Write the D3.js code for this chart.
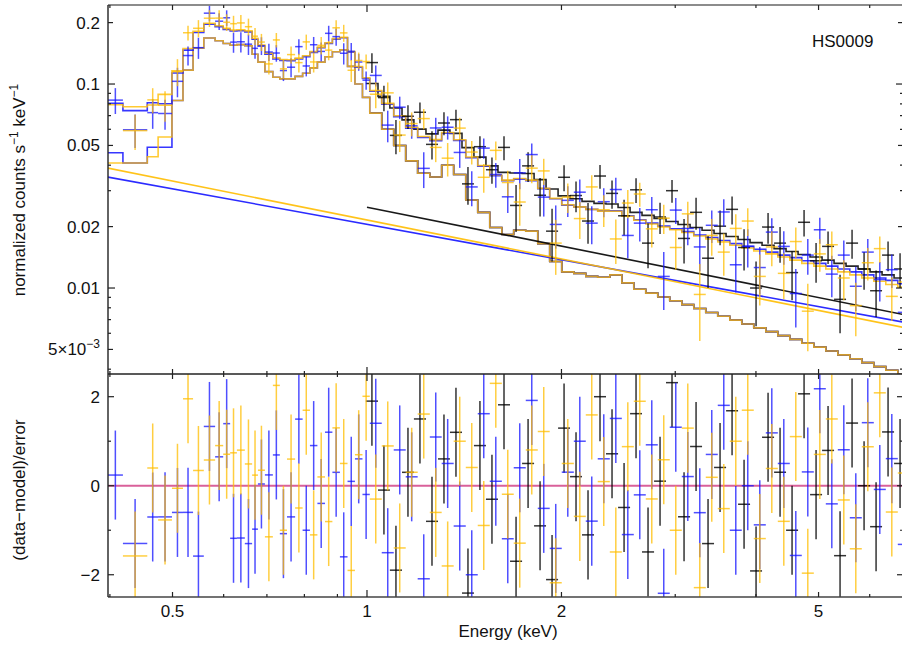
<!DOCTYPE html>
<html>
<head>
<meta charset="utf-8">
<script src="https://cdn.jsdelivr.net/npm/d3@7"></script>
<style>
  body { margin: 0; background: #fff; }
  svg text { font-family: "Liberation Sans", Arial, Helvetica, sans-serif; fill: #111; }
</style>
</head>
<body>
<svg id="chart" width="902" height="646"></svg>
<script>
// ---- bin edges (keV) ----
var edgesBY = [0.397,0.419,0.457,0.475,0.499,0.519,0.538,0.559,0.582,0.599,0.614,0.629,0.647,0.664,0.678,0.695,0.715,0.733,0.752,0.774,
  0.795,0.816,0.838,0.861,0.884,0.908,0.933,0.958,0.984,1.010,1.054,1.100,1.148,1.198,1.251,1.305,1.362,1.422,1.484,1.549,
  1.617,1.687,1.761,1.838,1.918,2.002,2.090,2.181,2.276,2.376,2.480,2.588,2.701,2.819,2.942,3.071,3.205,3.345,3.491,3.644,
  3.803,3.969,4.143,4.324,4.513,4.710,4.916,5.131,5.355,5.589,5.833,6.088,6.354,6.632,6.922];
var edgesK = [0.996,1.040,1.085,1.133,1.182,1.234,1.288,1.344,1.403,1.464,1.528,1.595,1.665,1.738,1.814,1.893,1.976,2.062,2.152,2.246,
  2.344,2.447,2.554,2.665,2.782,2.903,3.030,3.163,3.301,3.445,3.596,3.753,3.917,4.088,4.267,4.453,4.648,4.851,5.063,5.284,
  5.515,5.756,6.008,6.270,6.544,6.830];

// ---- model: total, per dataset ----
var modelBlue = [0.0805,0.0741,0.0809,0.0801,0.1133,0.1467,0.179,0.1964,0.1908,0.1854,
  0.182,0.1826,0.1802,0.1658,0.1535,0.1401,0.1327,0.1304,0.130,0.1326,
  0.1362,0.1429,0.1505,0.1582,0.1658,0.1685,0.1432,0.1209,0.1065,0.0921,
  0.0796,0.0692,0.0607,0.0547,0.0528,0.0574,0.0529,0.0435,0.0396,0.0355,
  0.0336,0.0342,0.0336,0.0307,0.0274,0.0255,0.0250,0.0243,0.0239,0.0239,
  0.0226,0.0216,0.0208,0.0201,0.0195,0.0189,0.0182,0.0177,0.0171,0.0165,
  0.0160,0.0155,0.0150,0.0145,0.0141,0.0136,0.0132,0.0128,0.0124,0.0120,
  0.0116,0.0112,0.0109,0.0105];
var modelYellow = [0.0791,0.0774,0.0789,0.089,0.116,0.1493,0.1814,0.1987,0.193,0.1875,
  0.184,0.1845,0.1821,0.1676,0.1552,0.1418,0.1343,0.1319,0.1315,0.134,
  0.1375,0.1442,0.1517,0.1594,0.1669,0.1696,0.1442,0.1219,0.1074,0.093,
  0.0804,0.0699,0.0614,0.0553,0.0534,0.0579,0.0533,0.0439,0.0399,0.0358,
  0.0338,0.0344,0.0338,0.0308,0.0275,0.0256,0.0250,0.0243,0.0238,0.0238,
  0.0225,0.0215,0.0206,0.0199,0.0193,0.0187,0.0180,0.0174,0.0168,0.0162,
  0.0157,0.0152,0.0147,0.0142,0.0137,0.0132,0.0128,0.0124,0.0120,0.0116,
  0.0112,0.0108,0.0104,0.0101];
var modelBlack = [0.1006,0.0870,0.0763,0.0667,0.0601,0.0570,0.0594,0.0573,0.0488,0.0438,
  0.0397,0.0369,0.0366,0.0364,0.0340,0.0306,0.0283,0.0274,0.0266,0.0260,
  0.0258,0.0248,0.0235,0.0227,0.0219,0.0212,0.0205,0.0198,0.0192,0.0185,
  0.0179,0.0173,0.0167,0.0162,0.0156,0.0151,0.0146,0.0142,0.0137,0.0132,
  0.0128,0.0124,0.0120,0.0116,0.0112];

// ---- model components ----
var thermBlue = [0.046,0.041,0.049,0.049,0.083,0.117,0.150,0.168,0.163,0.158,
  0.155,0.156,0.154,0.140,0.128,0.115,0.108,0.106,0.106,0.109,
  0.113,0.120,0.128,0.136,0.144,0.147,0.122,0.100,0.086,0.072,
  0.060,0.050,0.042,0.0365,0.035,0.040,0.036,0.027,0.0235,0.0198,
  0.0183,0.0192,0.0190,0.0165,0.0135,0.0120,0.0118,0.0114,0.0113,0.0116,
  0.0106,0.00987,0.00944,0.00904,0.00866,0.00829,0.00793,0.00759,0.00727,0.00696,
  0.00666,0.00638,0.00611,0.00584,0.00560,0.00536,0.00513,0.00491,0.00470,0.00450,
  0.00431,0.00412,0.00395,0.00378];
var thermYellow = [0.041,0.041,0.044,0.055,0.083,0.117,0.150,0.168,0.163,0.158,
  0.155,0.156,0.154,0.140,0.128,0.115,0.108,0.106,0.106,0.109,
  0.113,0.120,0.128,0.136,0.144,0.147,0.122,0.100,0.086,0.072,
  0.060,0.050,0.042,0.0365,0.035,0.040,0.036,0.027,0.0235,0.0198,
  0.0183,0.0192,0.0190,0.0165,0.0135,0.0120,0.0118,0.0114,0.0113,0.0116,
  0.0106,0.00987,0.00944,0.00904,0.00866,0.00829,0.00793,0.00759,0.00727,0.00696,
  0.00666,0.00638,0.00611,0.00584,0.00560,0.00536,0.00513,0.00491,0.00470,0.00450,
  0.00431,0.00412,0.00395,0.00378];
var plEnergyBY = [0.397, 6.78];
var plBlue = [0.035, 0.0068];
var plYellow = [0.0387, 0.0064];
var plEnergyK = [1.0, 6.78];
var plBlack = [0.0249, 0.0074];

// ---- data (normalized counts s^-1 keV^-1) and 1-sigma errors ----
var rateBlue = [0.0834,0.0597,0.0724,0.0717,0.1031,0.1379,0.1507,0.2225,0.2032,0.2112,
  0.1605,0.1611,0.1568,0.1496,0.1541,0.1435,0.1419,0.1164,0.1209,0.1525,
  0.1226,0.1558,0.1445,0.1772,0.1708,0.1415,0.1446,0.1282,0.1044,0.1102,
  0.0629,0.0770,0.0624,0.0386,0.0609,0.0614,0.0462,0.0313,0.0485,0.0360,
  0.0280,0.0367,0.0451,0.0279,0.0205,0.0269,0.0295,0.0208,0.0265,0.0304,
  0.0181,0.0208,0.0242,0.0114,0.0241,0.0196,0.0159,0.0203,0.0236,0.0130,
  0.0160,0.0126,0.0188,0.0160,0.0094,0.0145,0.0193,0.0117,0.0145,0.0102,
  0.0150,0.0110,0.0123,0.0076];
var errBlue = [0.0121,0.0111,0.0121,0.0120,0.0170,0.0147,0.0179,0.0196,0.0191,0.0185,
  0.0182,0.0183,0.0180,0.0166,0.0154,0.0140,0.0133,0.0130,0.0130,0.0133,
  0.0136,0.0143,0.0151,0.0158,0.0166,0.0169,0.0143,0.0121,0.0107,0.0129,
  0.0111,0.0097,0.0085,0.0077,0.0074,0.0080,0.0074,0.0061,0.0055,0.0050,
  0.0047,0.0062,0.0060,0.0055,0.0049,0.0046,0.0045,0.0044,0.0043,0.0043,
  0.0041,0.0039,0.0037,0.0036,0.0035,0.0034,0.0038,0.0037,0.0036,0.0035,
  0.0034,0.0033,0.0032,0.0030,0.0030,0.0029,0.0028,0.0027,0.0026,0.0025,
  0.0024,0.0024,0.0023,0.0022];
var rateYellow = [null,0.0591,0.0836,0.0787,0.1150,0.1784,0.1876,0.2102,0.2104,0.2008,
  0.1976,0.1993,0.1910,0.1716,0.1606,0.1255,0.1645,0.1187,0.1394,0.1273,
  0.1609,0.1283,0.1547,0.1466,0.1886,0.1781,0.1168,0.1304,0.1289,0.0891,
  0.0905,0.0562,0.0640,0.0677,0.0489,0.0433,0.0608,0.0464,0.0349,0.0473,
  0.0329,0.0264,0.0387,0.0375,0.0166,0.0279,0.0219,0.0313,0.0242,0.0174,
  0.0261,0.0289,0.0195,0.0220,0.0158,0.0231,0.0093,0.0181,0.0150,0.0196,
  0.0213,0.0114,0.0159,0.0118,0.0169,0.0077,0.0147,0.0163,0.0112,0.0082,
  0.0133,0.0156,0.0091,0.0107];
var errYellow = [null,0.0116,0.0118,0.0134,0.0174,0.0149,0.0181,0.0199,0.0193,0.0188,
  0.0184,0.0185,0.0182,0.0168,0.0155,0.0142,0.0134,0.0132,0.0132,0.0134,
  0.0138,0.0144,0.0152,0.0159,0.0167,0.0170,0.0144,0.0122,0.0107,0.0130,
  0.0113,0.0098,0.0086,0.0077,0.0075,0.0081,0.0075,0.0061,0.0056,0.0050,
  0.0047,0.0062,0.0061,0.0055,0.0050,0.0046,0.0045,0.0044,0.0043,0.0043,
  0.0041,0.0039,0.0037,0.0036,0.0035,0.0034,0.0038,0.0037,0.0035,0.0034,
  0.0033,0.0032,0.0031,0.0030,0.0029,0.0028,0.0027,0.0026,0.0025,0.0024,
  0.0024,0.0023,0.0022,0.0021];
var rateBlack = [0.1274,0.0858,0.0560,0.0695,0.0727,0.0506,0.0644,0.0669,0.0324,0.0493,
  0.0380,0.0489,0.0254,0.0397,0.0285,0.0190,0.0349,0.0284,0.0213,0.0354,
  0.0291,0.0226,0.0303,0.0166,0.0223,0.0300,0.0175,0.0235,0.0140,0.0201,
  0.0243,0.0158,0.0100,0.0199,0.0166,0.0119,0.0210,0.0136,0.0160,0.0088,
  0.0166,0.0124,0.0097,0.0145,0.0124];
var errBlack = [0.0141,0.0122,0.0107,0.0093,0.0084,0.0080,0.0083,0.0080,0.0068,0.0061,
  0.0056,0.0066,0.0066,0.0066,0.0061,0.0055,0.0051,0.0049,0.0048,0.0047,
  0.0046,0.0045,0.0042,0.0041,0.0039,0.0038,0.0043,0.0042,0.0040,0.0039,
  0.0038,0.0036,0.0035,0.0034,0.0033,0.0032,0.0031,0.0030,0.0029,0.0028,
  0.0027,0.0026,0.0025,0.0024,0.0024];

// ---- ticks ----
var xLabelTicks = [0.5, 1, 2, 5];
var xLabels = ["0.5", "1", "2", "5"];
var xMinorTicks = [0.4, 0.6, 0.7, 0.8, 0.9, 3, 4, 6];
var yTopLabelTicks = [0.2, 0.1, 0.05, 0.02, 0.01, 0.005];
var yTopMinorTicks = [0.004, 0.006, 0.007, 0.008, 0.009, 0.03, 0.04, 0.06, 0.07, 0.08, 0.09];
var resLabelTicks = [2, 0, -2];
var resMinorTicks = [1, -1];

var colBlue = "#1414ff", colGold = "#ffbd00", colBlack = "#000000";

// right edge of the frame sits just past the picture edge
var left = 108, right = 904, topY = 5, midY = 374, botY = 597;

var x = d3.scaleLog().domain([0.3973, 6.78]).range([left, right]);
var yTop = d3.scaleLog().domain([0.003789, 0.244]).range([midY, topY]);
var yRes = d3.scaleLinear().domain([-2.5, 2.51]).range([botY, midY]);

var svg = d3.select("#chart");
var defs = svg.append("defs");
defs.append("clipPath").attr("id", "clipTop").append("rect")
  .attr("x", left).attr("y", topY).attr("width", right - left).attr("height", midY - topY);
defs.append("clipPath").attr("id", "clipRes").append("rect")
  .attr("x", left).attr("y", midY).attr("width", right - left).attr("height", botY - midY);

var gTop = svg.append("g").attr("clip-path", "url(#clipTop)");
var gRes = svg.append("g").attr("clip-path", "url(#clipRes)");

function stepPoints(edges, vals) {
  var pts = vals.map(function (v, i) { return [edges[i], v]; });
  pts.push([edges[vals.length], vals[vals.length - 1]]);
  return pts;
}
var stepLine = d3.line().x(function (d) { return x(d[0]); }).y(function (d) { return yTop(d[1]); })
  .curve(d3.curveStepAfter);
var straight = d3.line().x(function (d) { return x(d[0]); }).y(function (d) { return yTop(d[1]); });

function drawPath(g, line, pts, color, op) {
  g.append("path").datum(pts).attr("d", line)
    .attr("fill", "none").attr("stroke", color).attr("stroke-width", 1.6)
    .attr("stroke-opacity", op).attr("stroke-linejoin", "miter");
}

// components
drawPath(gTop, stepLine, stepPoints(edgesBY.slice(29), thermYellow.slice(29)), colBlack, 0.85);
drawPath(gTop, stepLine, stepPoints(edgesBY, thermBlue), colBlue, 0.85);
drawPath(gTop, stepLine, stepPoints(edgesBY, thermYellow), colGold, 0.8);
drawPath(gTop, straight, plEnergyK.map(function (e, i) { return [e, plBlack[i]]; }), colBlack, 0.9);
drawPath(gTop, straight, plEnergyBY.map(function (e, i) { return [e, plBlue[i]]; }), colBlue, 0.9);
drawPath(gTop, straight, plEnergyBY.map(function (e, i) { return [e, plYellow[i]]; }), colGold, 0.9);
// totals
drawPath(gTop, stepLine, stepPoints(edgesK, modelBlack), colBlack, 0.85);
drawPath(gTop, stepLine, stepPoints(edgesBY, modelBlue), colBlue, 0.85);
drawPath(gTop, stepLine, stepPoints(edgesBY, modelYellow), colGold, 0.8);

function makeBins(edges, rate, err, model) {
  var out = [];
  rate.forEach(function (v, i) {
    if (v == null) return;
    out.push({ lo: edges[i], hi: edges[i + 1], v: v, e: err[i], m: model[i], r: (v - model[i]) / err[i] });
  });
  return out;
}
var setBlack = makeBins(edgesK, rateBlack, errBlack, modelBlack);
var setBlue = makeBins(edgesBY, rateBlue, errBlue, modelBlue);
var setYellow = makeBins(edgesBY, rateYellow, errYellow, modelYellow);

function drawData(g, set, color, op) {
  var grp = g.append("g").attr("stroke", color).attr("stroke-width", 1.5).attr("stroke-opacity", op);
  set.forEach(function (d) {
    var xc = x(Math.sqrt(d.lo * d.hi));
    grp.append("line").attr("x1", x(d.lo)).attr("x2", x(d.hi)).attr("y1", yTop(d.v)).attr("y2", yTop(d.v));
    grp.append("line").attr("x1", xc).attr("x2", xc)
      .attr("y1", yTop(Math.max(d.v - d.e, 1e-4))).attr("y2", yTop(d.v + d.e));
  });
}
function drawRes(g, set, color, op) {
  var grp = g.append("g").attr("stroke", color).attr("stroke-width", 1.5).attr("stroke-opacity", op);
  set.forEach(function (d) {
    var xc = x(Math.sqrt(d.lo * d.hi));
    grp.append("line").attr("x1", x(d.lo)).attr("x2", x(d.hi)).attr("y1", yRes(d.r)).attr("y2", yRes(d.r));
    grp.append("line").attr("x1", xc).attr("x2", xc).attr("y1", yRes(d.r - 1)).attr("y2", yRes(d.r + 1));
  });
}
drawData(gTop, setBlack, colBlack, 0.8);
drawData(gTop, setBlue, colBlue, 0.75);
drawData(gTop, setYellow, colGold, 0.75);

gRes.append("line").attr("x1", left).attr("x2", right).attr("y1", yRes(0)).attr("y2", yRes(0))
  .attr("stroke", "#d9609a").attr("stroke-width", 2);
drawRes(gRes, setBlack, colBlack, 0.8);
drawRes(gRes, setBlue, colBlue, 0.75);
drawRes(gRes, setYellow, colGold, 0.75);

// ---- frame ----
var frame = svg.append("g").attr("stroke", "#222").attr("stroke-width", 1.4).attr("fill", "none");
frame.append("line").attr("x1", left).attr("x2", right).attr("y1", topY).attr("y2", topY).attr("stroke", "#666");
frame.append("line").attr("x1", left).attr("x2", right).attr("y1", midY).attr("y2", midY);
frame.append("line").attr("x1", left).attr("x2", right).attr("y1", botY).attr("y2", botY).attr("stroke", "#444");
frame.append("line").attr("x1", left).attr("x2", left).attr("y1", topY).attr("y2", botY);

// ---- ticks ----
var ticks = svg.append("g").attr("stroke", "#222").attr("stroke-width", 1.2);
function xTick(v, len) {
  var px = x(v);
  ticks.append("line").attr("x1", px).attr("x2", px).attr("y1", topY).attr("y2", topY + len);
  ticks.append("line").attr("x1", px).attr("x2", px).attr("y1", midY - len).attr("y2", midY + len);
  ticks.append("line").attr("x1", px).attr("x2", px).attr("y1", botY).attr("y2", botY - len);
}
xLabelTicks.forEach(function (v) { xTick(v, v === 1 ? 7 : 5); });
xMinorTicks.forEach(function (v) { xTick(v, 3); });

function yTickTop(v, len) {
  var py = yTop(v);
  ticks.append("line").attr("x1", left).attr("x2", left + len).attr("y1", py).attr("y2", py);
  ticks.append("line").attr("x1", right).attr("x2", right - len - 1).attr("y1", py).attr("y2", py);
}
yTopLabelTicks.forEach(function (v) { yTickTop(v, (v === 0.1 || v === 0.01) ? 7 : 5); });
yTopMinorTicks.forEach(function (v) { yTickTop(v, 3); });

function yTickRes(v, len) {
  var py = yRes(v);
  ticks.append("line").attr("x1", left).attr("x2", left + len).attr("y1", py).attr("y2", py);
  ticks.append("line").attr("x1", right).attr("x2", right - len - 1).attr("y1", py).attr("y2", py);
}
resLabelTicks.forEach(function (v) { yTickRes(v, 6); });
resMinorTicks.forEach(function (v) { yTickRes(v, 3); });

// ---- tick labels ----
var lab = svg.append("g").attr("font-size", 17);
yTopLabelTicks.forEach(function (v, i) {
  var t = lab.append("text").attr("x", 100).attr("y", yTop(v) + 6).attr("text-anchor", "end");
  if (v === 0.005) {
    t.append("tspan").text("5\u00d710");
    t.append("tspan").attr("font-size", 12).attr("dy", -7).text("\u22123");
  } else {
    t.text(String(v));
  }
});
resLabelTicks.forEach(function (v) {
  lab.append("text").attr("x", 100).attr("y", yRes(v) + 6).attr("text-anchor", "end")
    .text(v < 0 ? "\u2212" + Math.abs(v) : String(v));
});
xLabelTicks.forEach(function (v, i) {
  lab.append("text").attr("x", x(v)).attr("y", 617).attr("text-anchor", "middle").text(xLabels[i]);
});

// ---- axis titles ----
var yt = lab.append("text").attr("transform", "translate(25,190) rotate(-90)").attr("text-anchor", "middle");
yt.append("tspan").text("normalized counts s");
yt.append("tspan").attr("font-size", 12).attr("dy", -7).text("\u22121");
yt.append("tspan").attr("dy", 7).text(" keV");
yt.append("tspan").attr("font-size", 12).attr("dy", -7).text("\u22121");

lab.append("text").attr("transform", "translate(25,490) rotate(-90)").attr("text-anchor", "middle")
  .text("(data\u2212model)/error");
lab.append("text").attr("x", 508).attr("y", 637).attr("text-anchor", "middle").text("Energy (keV)");
lab.append("text").attr("x", 812).attr("y", 47).text("HS0009");
</script>
</body>
</html>
